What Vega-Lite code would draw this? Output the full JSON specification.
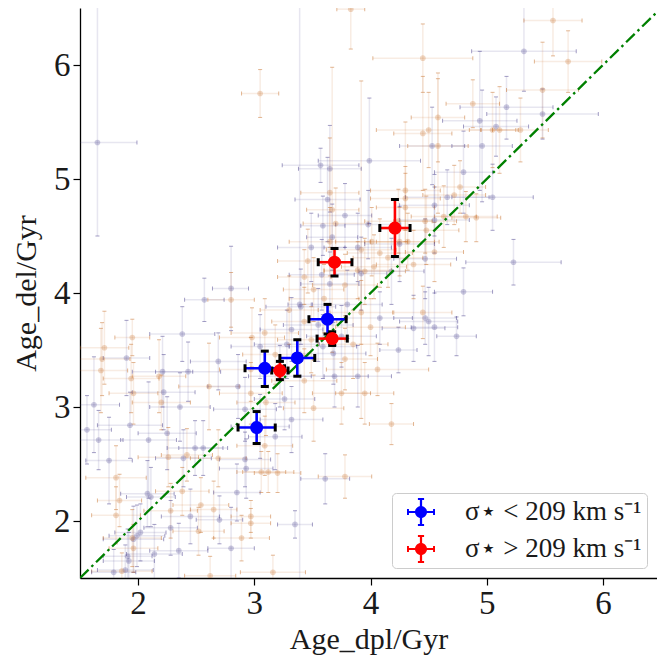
{
  "$schema": "https://vega.github.io/schema/vega-lite/v6.json",
  "width": 577,
  "height": 570,
  "autosize": {"type": "none"},
  "padding": {"left": 80, "top": 8, "right": 0, "bottom": 82},
  "background": "white",
  "config": {
    "view": {"stroke": null},
    "axis": {
      "grid": false,
      "domainColor": "black",
      "domainWidth": 1.3,
      "tickColor": "black",
      "tickWidth": 1.2,
      "tickSize": 7,
      "labelFont": "Liberation Serif",
      "labelFontSize": 33,
      "labelColor": "#1a1a1a",
      "titleFont": "Liberation Serif",
      "titleFontSize": 30,
      "titleFontWeight": "normal",
      "titleColor": "#1a1a1a"
    },
    "legend": {
      "orient": "bottom-right",
      "offset": 10,
      "padding": 5,
      "strokeColor": "#cccccc",
      "fillColor": "rgba(255,255,255,0.8)",
      "cornerRadius": 4,
      "labelFont": "Liberation Serif",
      "labelFontSize": 27,
      "labelLimit": 400,
      "labelColor": "#1a1a1a",
      "symbolSize": 784,
      "symbolStrokeWidth": 0,
      "symbolOffset": 10,
      "labelOffset": 30,
      "rowPadding": 9
    }
  },
  "datasets": {
    "bg": [
      {"x":1.65,"y":5.32,"xl":1.31,"xh":1.99,"yl":4.5,"yh":6.6,"g":"a"},
      {"x":3.05,"y":5.75,"xl":2.89,"xh":3.21,"yl":5.54,"yh":5.96,"g":"b"},
      {"x":3.83,"y":6.49,"xl":3.71,"xh":3.95,"yl":6.14,"yh":6.84,"g":"b"},
      {"x":3.39,"y":3.9,"xl":3.29,"xh":3.49,"yl":1.3,"yh":6.6,"g":"a"},
      {"x":3.57,"y":5.12,"xl":3.24,"xh":3.9,"yl":4.97,"yh":5.27,"g":"a"},
      {"x":3.65,"y":5.09,"xl":3.38,"xh":3.92,"yl":4.71,"yh":5.47,"g":"a"},
      {"x":2.8,"y":4.04,"xl":2.64,"xh":2.95,"yl":3.67,"yh":4.41,"g":"a"},
      {"x":3.65,"y":4.88,"xl":3.4,"xh":3.9,"yl":4.4,"yh":5.36,"g":"b"},
      {"x":3.63,"y":4.82,"xl":3.35,"xh":3.91,"yl":4.45,"yh":5.19,"g":"a"},
      {"x":3.67,"y":4.73,"xl":3.45,"xh":3.9,"yl":3.48,"yh":5.98,"g":"b"},
      {"x":3.78,"y":4.68,"xl":3.55,"xh":4.01,"yl":4.4,"yh":4.96,"g":"a"},
      {"x":3.7,"y":4.61,"xl":3.42,"xh":3.98,"yl":4.3,"yh":4.92,"g":"b"},
      {"x":3.59,"y":4.59,"xl":3.4,"xh":3.78,"yl":4.33,"yh":4.85,"g":"a"},
      {"x":3.67,"y":4.49,"xl":3.45,"xh":3.89,"yl":4.2,"yh":4.78,"g":"a"},
      {"x":3.65,"y":4.45,"xl":3.3,"xh":4.0,"yl":4.15,"yh":4.75,"g":"b"},
      {"x":3.92,"y":4.38,"xl":3.62,"xh":4.22,"yl":2.9,"yh":5.86,"g":"b"},
      {"x":3.89,"y":4.2,"xl":3.6,"xh":4.18,"yl":3.95,"yh":4.45,"g":"b"},
      {"x":3.92,"y":4.17,"xl":3.7,"xh":4.14,"yl":3.85,"yh":4.49,"g":"a"},
      {"x":3.43,"y":4.14,"xl":3.2,"xh":3.66,"yl":3.9,"yh":4.38,"g":"b"},
      {"x":3.51,"y":4.03,"xl":3.25,"xh":3.77,"yl":3.75,"yh":4.31,"g":"b"},
      {"x":3.65,"y":4.08,"xl":3.4,"xh":3.9,"yl":3.8,"yh":4.36,"g":"a"},
      {"x":5.57,"y":6.39,"xl":5.32,"xh":5.82,"yl":6.08,"yh":6.7,"g":"b"},
      {"x":5.32,"y":6.12,"xl":4.87,"xh":5.77,"yl":5.77,"yh":6.6,"g":"a"},
      {"x":5.7,"y":6.03,"xl":5.41,"xh":5.99,"yl":5.76,"yh":6.3,"g":"b"},
      {"x":4.45,"y":6.06,"xl":4.02,"xh":4.88,"yl":5.76,"yh":6.36,"g":"b"},
      {"x":5.48,"y":5.78,"xl":5.17,"xh":5.79,"yl":5.36,"yh":6.2,"g":"b"},
      {"x":5.48,"y":5.57,"xl":5.0,"xh":5.96,"yl":5.35,"yh":5.79,"g":"a"},
      {"x":5.17,"y":5.63,"xl":4.77,"xh":5.57,"yl":5.35,"yh":5.9,"g":"a"},
      {"x":4.88,"y":5.66,"xl":4.65,"xh":5.11,"yl":5.45,"yh":5.87,"g":"b"},
      {"x":4.58,"y":5.54,"xl":4.35,"xh":4.81,"yl":5.15,"yh":5.93,"g":"b"},
      {"x":4.94,"y":5.51,"xl":4.62,"xh":5.26,"yl":4.9,"yh":6.12,"g":"a"},
      {"x":5.08,"y":5.46,"xl":4.8,"xh":5.36,"yl":5.2,"yh":5.72,"g":"a"},
      {"x":5.05,"y":5.43,"xl":4.85,"xh":5.25,"yl":5.1,"yh":5.76,"g":"b"},
      {"x":5.11,"y":5.43,"xl":4.95,"xh":5.27,"yl":5.05,"yh":5.81,"g":"b"},
      {"x":5.29,"y":5.43,"xl":5.05,"xh":5.53,"yl":5.15,"yh":5.71,"g":"b"},
      {"x":4.5,"y":5.43,"xl":4.05,"xh":4.95,"yl":5.1,"yh":5.76,"g":"b"},
      {"x":4.45,"y":5.4,"xl":4.2,"xh":4.7,"yl":4.9,"yh":5.9,"g":"b"},
      {"x":4.53,"y":5.29,"xl":4.25,"xh":4.81,"yl":4.95,"yh":5.63,"g":"a"},
      {"x":4.58,"y":5.29,"xl":4.32,"xh":4.84,"yl":4.7,"yh":5.88,"g":"b"},
      {"x":4.96,"y":5.29,"xl":4.7,"xh":5.22,"yl":4.8,"yh":5.78,"g":"a"},
      {"x":3.99,"y":5.16,"xl":3.55,"xh":4.43,"yl":4.61,"yh":5.71,"g":"a"},
      {"x":4.8,"y":5.06,"xl":4.55,"xh":5.05,"yl":4.7,"yh":5.42,"g":"a"},
      {"x":4.77,"y":4.93,"xl":4.55,"xh":4.99,"yl":4.7,"yh":5.16,"g":"b"},
      {"x":4.3,"y":4.9,"xl":4.0,"xh":4.6,"yl":4.3,"yh":5.5,"g":"b"},
      {"x":4.72,"y":4.86,"xl":4.45,"xh":4.99,"yl":4.6,"yh":5.12,"g":"b"},
      {"x":4.66,"y":4.84,"xl":4.3,"xh":5.02,"yl":4.6,"yh":5.08,"g":"a"},
      {"x":4.3,"y":4.83,"xl":4.0,"xh":4.6,"yl":4.55,"yh":5.11,"g":"b"},
      {"x":5.05,"y":4.84,"xl":4.7,"xh":5.4,"yl":4.55,"yh":5.13,"g":"a"},
      {"x":4.55,"y":4.77,"xl":4.25,"xh":4.85,"yl":4.5,"yh":5.04,"g":"a"},
      {"x":4.55,"y":4.64,"xl":4.25,"xh":4.85,"yl":4.35,"yh":4.93,"g":"a"},
      {"x":4.82,"y":4.67,"xl":4.55,"xh":5.09,"yl":4.45,"yh":4.89,"g":"b"},
      {"x":4.91,"y":4.66,"xl":4.7,"xh":5.12,"yl":4.45,"yh":4.87,"g":"b"},
      {"x":4.63,"y":4.67,"xl":4.35,"xh":4.91,"yl":4.4,"yh":4.94,"g":"b"},
      {"x":4.48,"y":4.55,"xl":4.2,"xh":4.76,"yl":4.25,"yh":4.85,"g":"b"},
      {"x":4.25,"y":4.45,"xl":3.95,"xh":4.55,"yl":4.15,"yh":4.75,"g":"b"},
      {"x":4.32,"y":4.45,"xl":4.05,"xh":4.59,"yl":4.2,"yh":4.7,"g":"b"},
      {"x":4.25,"y":4.43,"xl":3.95,"xh":4.55,"yl":4.1,"yh":4.76,"g":"a"},
      {"x":4.08,"y":4.35,"xl":3.8,"xh":4.36,"yl":4.05,"yh":4.65,"g":"b"},
      {"x":4.15,"y":4.31,"xl":3.85,"xh":4.45,"yl":4.05,"yh":4.57,"g":"b"},
      {"x":4.47,"y":4.3,"xl":4.2,"xh":4.74,"yl":3.95,"yh":4.65,"g":"a"},
      {"x":4.37,"y":4.25,"xl":4.05,"xh":4.69,"yl":3.95,"yh":4.55,"g":"b"},
      {"x":4.03,"y":4.23,"xl":3.75,"xh":4.31,"yl":3.95,"yh":4.51,"g":"b"},
      {"x":5.23,"y":4.27,"xl":4.82,"xh":5.64,"yl":4.07,"yh":4.47,"g":"a"},
      {"x":4.55,"y":4.36,"xl":4.3,"xh":4.8,"yl":4.1,"yh":4.62,"g":"b"},
      {"x":4.8,"y":4.01,"xl":4.55,"xh":5.05,"yl":3.8,"yh":4.22,"g":"a"},
      {"x":3.98,"y":4.6,"xl":3.7,"xh":4.26,"yl":4.3,"yh":4.9,"g":"a"},
      {"x":4.01,"y":4.45,"xl":3.7,"xh":4.32,"yl":4.15,"yh":4.75,"g":"b"},
      {"x":4.24,"y":4.63,"xl":3.95,"xh":4.53,"yl":4.35,"yh":4.91,"g":"b"},
      {"x":4.47,"y":4.63,"xl":4.2,"xh":4.74,"yl":4.35,"yh":4.91,"g":"b"},
      {"x":4.18,"y":4.19,"xl":3.9,"xh":4.46,"yl":3.9,"yh":4.48,"g":"a"},
      {"x":3.95,"y":4.19,"xl":3.6,"xh":4.3,"yl":3.9,"yh":4.48,"g":"b"},
      {"x":4.3,"y":4.75,"xl":4.05,"xh":4.55,"yl":4.45,"yh":5.05,"g":"b"},
      {"x":3.46,"y":4.28,"xl":3.2,"xh":3.72,"yl":4.0,"yh":4.56,"g":"b"},
      {"x":3.58,"y":4.16,"xl":3.3,"xh":3.86,"yl":3.85,"yh":4.47,"g":"a"},
      {"x":3.78,"y":4.07,"xl":3.5,"xh":4.06,"yl":3.8,"yh":4.34,"g":"b"},
      {"x":3.89,"y":4.4,"xl":3.6,"xh":4.18,"yl":4.1,"yh":4.7,"g":"a"},
      {"x":3.49,"y":4.4,"xl":3.2,"xh":3.78,"yl":4.1,"yh":4.7,"g":"a"},
      {"x":4.45,"y":3.83,"xl":4.2,"xh":4.7,"yl":3.6,"yh":4.06,"g":"b"},
      {"x":4.08,"y":3.78,"xl":3.8,"xh":4.36,"yl":3.55,"yh":4.01,"g":"a"},
      {"x":4.47,"y":3.78,"xl":4.2,"xh":4.74,"yl":3.55,"yh":4.01,"g":"a"},
      {"x":4.5,"y":3.75,"xl":4.25,"xh":4.75,"yl":3.45,"yh":4.05,"g":"a"},
      {"x":4.37,"y":3.69,"xl":4.1,"xh":4.64,"yl":3.4,"yh":3.98,"g":"a"},
      {"x":4.55,"y":3.7,"xl":4.35,"xh":4.75,"yl":3.4,"yh":4.0,"g":"a"},
      {"x":4.74,"y":3.62,"xl":4.57,"xh":4.91,"yl":3.45,"yh":3.79,"g":"a"},
      {"x":4.0,"y":3.7,"xl":3.7,"xh":4.3,"yl":3.45,"yh":3.95,"g":"b"},
      {"x":4.24,"y":3.5,"xl":4.08,"xh":4.4,"yl":3.3,"yh":3.7,"g":"a"},
      {"x":4.06,"y":3.33,"xl":3.62,"xh":4.5,"yl":3.1,"yh":3.56,"g":"b"},
      {"x":4.18,"y":2.85,"xl":3.99,"xh":4.37,"yl":2.67,"yh":3.03,"g":"b"},
      {"x":2.57,"y":3.94,"xl":2.4,"xh":2.74,"yl":3.75,"yh":4.13,"g":"a"},
      {"x":2.8,"y":3.94,"xl":2.6,"xh":3.0,"yl":3.7,"yh":4.18,"g":"b"},
      {"x":1.71,"y":3.52,"xl":1.5,"xh":1.92,"yl":3.2,"yh":3.84,"g":"b"},
      {"x":1.95,"y":3.61,"xl":1.8,"xh":2.1,"yl":3.45,"yh":3.77,"g":"b"},
      {"x":1.69,"y":3.42,"xl":1.45,"xh":1.93,"yl":3.1,"yh":3.74,"g":"b"},
      {"x":1.68,"y":3.32,"xl":1.45,"xh":1.91,"yl":2.95,"yh":3.69,"g":"b"},
      {"x":1.9,"y":3.43,"xl":1.7,"xh":2.1,"yl":3.1,"yh":3.76,"g":"a"},
      {"x":1.94,"y":3.25,"xl":1.7,"xh":2.18,"yl":2.95,"yh":3.55,"g":"b"},
      {"x":1.96,"y":3.12,"xl":1.75,"xh":2.17,"yl":2.85,"yh":3.39,"g":"b"},
      {"x":2.18,"y":3.27,"xl":1.95,"xh":2.41,"yl":2.95,"yh":3.59,"g":"b"},
      {"x":2.2,"y":3.04,"xl":1.95,"xh":2.45,"yl":2.8,"yh":3.28,"g":"b"},
      {"x":2.22,"y":3.13,"xl":1.95,"xh":2.49,"yl":2.8,"yh":3.46,"g":"a"},
      {"x":2.21,"y":3.31,"xl":1.95,"xh":2.47,"yl":3.0,"yh":3.62,"g":"a"},
      {"x":2.38,"y":3.64,"xl":2.1,"xh":2.66,"yl":3.4,"yh":3.88,"g":"a"},
      {"x":2.43,"y":3.31,"xl":2.15,"xh":2.71,"yl":3.05,"yh":3.57,"g":"a"},
      {"x":2.61,"y":3.18,"xl":2.35,"xh":2.87,"yl":2.8,"yh":3.56,"g":"b"},
      {"x":2.69,"y":3.4,"xl":2.45,"xh":2.93,"yl":3.15,"yh":3.65,"g":"a"},
      {"x":2.36,"y":3.0,"xl":2.1,"xh":2.62,"yl":2.7,"yh":3.3,"g":"a"},
      {"x":1.62,"y":3.02,"xl":1.4,"xh":1.84,"yl":2.6,"yh":3.44,"g":"a"},
      {"x":1.56,"y":2.8,"xl":1.35,"xh":1.77,"yl":2.5,"yh":3.1,"g":"a"},
      {"x":1.66,"y":2.71,"xl":1.45,"xh":1.87,"yl":2.45,"yh":2.97,"g":"a"},
      {"x":1.93,"y":2.84,"xl":1.65,"xh":2.21,"yl":2.55,"yh":3.13,"g":"a"},
      {"x":2.09,"y":2.71,"xl":1.85,"xh":2.33,"yl":2.2,"yh":3.22,"g":"a"},
      {"x":2.25,"y":2.77,"xl":2.0,"xh":2.5,"yl":2.45,"yh":3.09,"g":"a"},
      {"x":1.75,"y":2.53,"xl":1.55,"xh":1.95,"yl":2.15,"yh":2.91,"g":"a"},
      {"x":2.26,"y":2.56,"xl":2.0,"xh":2.52,"yl":2.3,"yh":2.82,"g":"b"},
      {"x":2.39,"y":2.55,"xl":2.15,"xh":2.63,"yl":2.3,"yh":2.8,"g":"a"},
      {"x":2.42,"y":2.58,"xl":2.2,"xh":2.64,"yl":2.35,"yh":2.81,"g":"b"},
      {"x":2.49,"y":2.64,"xl":2.25,"xh":2.73,"yl":2.4,"yh":2.88,"g":"a"},
      {"x":2.56,"y":2.64,"xl":2.35,"xh":2.77,"yl":2.4,"yh":2.88,"g":"a"},
      {"x":2.69,"y":2.55,"xl":2.45,"xh":2.93,"yl":2.3,"yh":2.8,"g":"b"},
      {"x":2.93,"y":2.46,"xl":2.7,"xh":3.16,"yl":2.2,"yh":2.72,"g":"a"},
      {"x":3.06,"y":2.43,"xl":2.85,"xh":3.27,"yl":2.25,"yh":2.61,"g":"b"},
      {"x":3.12,"y":2.43,"xl":2.9,"xh":3.34,"yl":2.25,"yh":2.61,"g":"b"},
      {"x":3.2,"y":2.42,"xl":3.0,"xh":3.4,"yl":2.25,"yh":2.59,"g":"b"},
      {"x":3.61,"y":2.37,"xl":3.4,"xh":3.82,"yl":2.15,"yh":2.59,"g":"a"},
      {"x":3.78,"y":2.39,"xl":3.55,"xh":4.01,"yl":2.2,"yh":2.58,"g":"b"},
      {"x":1.81,"y":2.38,"xl":1.55,"xh":2.07,"yl":2.1,"yh":2.66,"g":"b"},
      {"x":2.08,"y":2.24,"xl":1.85,"xh":2.31,"yl":1.95,"yh":2.53,"g":"a"},
      {"x":2.85,"y":2.25,"xl":2.65,"xh":3.05,"yl":2.0,"yh":2.5,"g":"a"},
      {"x":2.38,"y":2.26,"xl":2.15,"xh":2.61,"yl":2.05,"yh":2.47,"g":"b"},
      {"x":1.84,"y":2.18,"xl":1.65,"xh":2.03,"yl":1.95,"yh":2.41,"g":"b"},
      {"x":2.11,"y":2.21,"xl":1.9,"xh":2.32,"yl":1.95,"yh":2.47,"g":"a"},
      {"x":2.54,"y":2.14,"xl":2.3,"xh":2.78,"yl":1.9,"yh":2.38,"g":"b"},
      {"x":2.65,"y":2.1,"xl":2.45,"xh":2.85,"yl":1.85,"yh":2.35,"g":"b"},
      {"x":2.28,"y":2.09,"xl":2.05,"xh":2.51,"yl":1.85,"yh":2.33,"g":"b"},
      {"x":1.81,"y":2.05,"xl":1.6,"xh":2.02,"yl":1.8,"yh":2.3,"g":"b"},
      {"x":2.45,"y":2.04,"xl":2.2,"xh":2.7,"yl":1.8,"yh":2.28,"g":"a"},
      {"x":2.7,"y":2.01,"xl":2.5,"xh":2.9,"yl":1.8,"yh":2.22,"g":"a"},
      {"x":2.97,"y":2.04,"xl":2.8,"xh":3.14,"yl":1.9,"yh":2.18,"g":"b"},
      {"x":2.97,"y":1.98,"xl":2.8,"xh":3.14,"yl":1.85,"yh":2.11,"g":"b"},
      {"x":3.35,"y":1.97,"xl":3.2,"xh":3.5,"yl":1.85,"yh":2.09,"g":"a"},
      {"x":2.28,"y":1.94,"xl":2.05,"xh":2.51,"yl":1.7,"yh":2.18,"g":"a"},
      {"x":2.52,"y":1.91,"xl":2.3,"xh":2.74,"yl":1.7,"yh":2.12,"g":"b"},
      {"x":2.89,"y":1.85,"xl":2.65,"xh":3.13,"yl":1.65,"yh":2.05,"g":"b"},
      {"x":2.02,"y":1.9,"xl":1.8,"xh":2.24,"yl":1.65,"yh":2.15,"g":"a"},
      {"x":1.99,"y":1.87,"xl":1.75,"xh":2.23,"yl":1.6,"yh":2.14,"g":"a"},
      {"x":1.96,"y":1.84,"xl":1.7,"xh":2.22,"yl":1.55,"yh":2.13,"g":"a"},
      {"x":1.91,"y":1.69,"xl":1.7,"xh":2.12,"yl":1.45,"yh":1.93,"g":"a"},
      {"x":1.92,"y":1.65,"xl":1.7,"xh":2.14,"yl":1.4,"yh":1.9,"g":"a"},
      {"x":1.89,"y":1.57,"xl":1.65,"xh":2.13,"yl":1.35,"yh":1.79,"g":"a"},
      {"x":1.96,"y":1.76,"xl":1.75,"xh":2.17,"yl":1.55,"yh":1.97,"g":"b"},
      {"x":1.95,"y":1.85,"xl":1.7,"xh":2.2,"yl":1.6,"yh":2.1,"g":"b"},
      {"x":2.35,"y":1.74,"xl":2.1,"xh":2.6,"yl":1.5,"yh":1.98,"g":"a"},
      {"x":2.14,"y":1.71,"xl":1.9,"xh":2.38,"yl":1.45,"yh":1.97,"g":"a"},
      {"x":2.8,"y":1.76,"xl":2.6,"xh":3.0,"yl":1.4,"yh":2.12,"g":"a"},
      {"x":3.16,"y":1.55,"xl":2.88,"xh":3.44,"yl":1.4,"yh":1.7,"g":"b"},
      {"x":1.86,"y":1.56,"xl":1.6,"xh":2.12,"yl":1.4,"yh":1.72,"g":"b"},
      {"x":1.79,"y":1.55,"xl":1.6,"xh":1.98,"yl":1.35,"yh":1.75,"g":"a"},
      {"x":2.62,"y":1.52,"xl":2.4,"xh":2.84,"yl":1.35,"yh":1.69,"g":"b"},
      {"x":2.98,"y":3.61,"xl":2.7,"xh":3.26,"yl":3.35,"yh":3.87,"g":"b"},
      {"x":3.05,"y":3.53,"xl":2.8,"xh":3.3,"yl":3.25,"yh":3.81,"g":"a"},
      {"x":3.18,"y":3.46,"xl":2.9,"xh":3.46,"yl":3.2,"yh":3.72,"g":"b"},
      {"x":3.28,"y":3.55,"xl":3.0,"xh":3.56,"yl":3.25,"yh":3.85,"g":"a"},
      {"x":3.49,"y":3.59,"xl":3.2,"xh":3.78,"yl":3.3,"yh":3.88,"g":"b"},
      {"x":3.59,"y":3.53,"xl":3.3,"xh":3.88,"yl":3.25,"yh":3.81,"g":"a"},
      {"x":3.68,"y":3.47,"xl":3.4,"xh":3.96,"yl":3.2,"yh":3.74,"g":"a"},
      {"x":3.78,"y":3.42,"xl":3.5,"xh":4.06,"yl":3.15,"yh":3.69,"g":"b"},
      {"x":3.75,"y":3.12,"xl":3.5,"xh":4.0,"yl":2.85,"yh":3.39,"g":"b"},
      {"x":3.51,"y":2.99,"xl":3.25,"xh":3.77,"yl":2.7,"yh":3.28,"g":"b"},
      {"x":3.43,"y":3.23,"xl":3.15,"xh":3.71,"yl":2.95,"yh":3.51,"g":"b"},
      {"x":3.18,"y":2.74,"xl":2.95,"xh":3.41,"yl":2.45,"yh":3.03,"g":"a"},
      {"x":3.09,"y":2.66,"xl":2.85,"xh":3.33,"yl":2.4,"yh":2.92,"g":"b"},
      {"x":2.92,"y":2.54,"xl":2.7,"xh":3.14,"yl":2.3,"yh":2.78,"g":"a"},
      {"x":3.05,"y":2.83,"xl":2.8,"xh":3.3,"yl":2.55,"yh":3.11,"g":"a"},
      {"x":3.26,"y":3.07,"xl":3.0,"xh":3.52,"yl":2.8,"yh":3.34,"g":"a"},
      {"x":3.95,"y":3.12,"xl":3.7,"xh":4.2,"yl":2.85,"yh":3.39,"g":"b"},
      {"x":3.89,"y":3.27,"xl":3.6,"xh":4.18,"yl":3.0,"yh":3.54,"g":"a"},
      {"x":3.69,"y":3.27,"xl":3.4,"xh":3.98,"yl":3.0,"yh":3.54,"g":"a"},
      {"x":3.43,"y":3.75,"xl":3.15,"xh":3.71,"yl":3.45,"yh":4.05,"g":"b"},
      {"x":3.55,"y":3.72,"xl":3.25,"xh":3.85,"yl":3.4,"yh":4.04,"g":"a"},
      {"x":3.92,"y":3.83,"xl":3.65,"xh":4.19,"yl":3.55,"yh":4.11,"g":"b"},
      {"x":3.32,"y":3.68,"xl":3.05,"xh":3.59,"yl":3.4,"yh":3.96,"g":"a"},
      {"x":3.09,"y":3.65,"xl":2.8,"xh":3.38,"yl":3.35,"yh":3.95,"g":"b"},
      {"x":3.22,"y":3.27,"xl":2.95,"xh":3.49,"yl":3.0,"yh":3.54,"g":"a"},
      {"x":2.97,"y":3.12,"xl":2.7,"xh":3.24,"yl":2.85,"yh":3.39,"g":"b"},
      {"x":2.92,"y":2.98,"xl":2.65,"xh":3.19,"yl":2.7,"yh":3.26,"g":"a"},
      {"x":3.1,"y":3.04,"xl":2.85,"xh":3.35,"yl":2.75,"yh":3.33,"g":"b"},
      {"x":3.32,"y":2.89,"xl":3.05,"xh":3.59,"yl":2.6,"yh":3.18,"g":"a"},
      {"x":2.86,"y":3.18,"xl":2.6,"xh":3.12,"yl":2.9,"yh":3.46,"g":"a"},
      {"x":2.97,"y":3.33,"xl":2.7,"xh":3.24,"yl":3.05,"yh":3.61,"g":"b"},
      {"x":3.4,"y":3.88,"xl":3.1,"xh":3.7,"yl":3.55,"yh":4.21,"g":"a"},
      {"x":3.6,"y":3.95,"xl":3.3,"xh":3.9,"yl":3.65,"yh":4.25,"g":"b"},
      {"x":3.8,"y":3.9,"xl":3.5,"xh":4.1,"yl":3.6,"yh":4.2,"g":"a"},
      {"x":3.3,"y":3.85,"xl":3.05,"xh":3.55,"yl":3.55,"yh":4.15,"g":"b"},
      {"x":3.75,"y":3.62,"xl":3.45,"xh":4.05,"yl":3.35,"yh":3.89,"g":"a"},
      {"x":3.85,"y":3.55,"xl":3.55,"xh":4.15,"yl":3.25,"yh":3.85,"g":"b"}
    ],
    "main": [
      {"x":3.02,"y":2.82,"xl":2.86,"xh":3.18,"yl":2.68,"yh":2.96,"g":"σ⋆ < 209 km s⁻¹"},
      {"x":3.09,"y":3.34,"xl":2.92,"xh":3.26,"yl":3.18,"yh":3.49,"g":"σ⋆ < 209 km s⁻¹"},
      {"x":3.37,"y":3.43,"xl":3.22,"xh":3.52,"yl":3.27,"yh":3.59,"g":"σ⋆ < 209 km s⁻¹"},
      {"x":3.63,"y":3.77,"xl":3.47,"xh":3.79,"yl":3.64,"yh":3.9,"g":"σ⋆ < 209 km s⁻¹"},
      {"x":3.22,"y":3.32,"xl":3.15,"xh":3.29,"yl":3.24,"yh":3.4,"g":"σ⋆ > 209 km s⁻¹"},
      {"x":3.67,"y":3.6,"xl":3.54,"xh":3.8,"yl":3.54,"yh":3.66,"g":"σ⋆ > 209 km s⁻¹"},
      {"x":3.69,"y":4.27,"xl":3.55,"xh":3.84,"yl":4.15,"yh":4.39,"g":"σ⋆ > 209 km s⁻¹"},
      {"x":4.21,"y":4.57,"xl":4.08,"xh":4.34,"yl":4.32,"yh":4.82,"g":"σ⋆ > 209 km s⁻¹"}
    ],
    "diag": [
      {"x":1.5,"y":1.5},
      {"x":6.5,"y":6.5}
    ]
  },
  "layer": [
    {
      "data": {"name": "bg"},
      "mark": {"type": "rule", "clip": true, "strokeWidth": 1.5, "opacity": 0.13},
      "encoding": {
        "x": {"field": "xl", "type": "quantitative", "scale": {"domain": [1.5, 6.465], "nice": false, "zero": false},
              "axis": {"orient": "bottom", "values": [2, 3, 4, 5, 6], "format": "d", "title": "Age_dpl/Gyr", "labelPadding": 2, "titlePadding": 4}},
        "x2": {"field": "xh"},
        "y": {"field": "y", "type": "quantitative", "scale": {"domain": [1.5, 6.5], "nice": false, "zero": false},
              "axis": {"orient": "left", "values": [2, 3, 4, 5, 6], "format": "d", "title": "Age_del/Gyr", "labelPadding": 3, "titlePadding": 12}},
        "stroke": {"field": "g", "type": "nominal", "scale": {"domain": ["a", "b"], "range": ["#483d8b", "#c8702a"]}, "legend": null}
      }
    },
    {
      "data": {"name": "bg"},
      "mark": {"type": "rule", "clip": true, "strokeWidth": 1.5, "opacity": 0.13},
      "encoding": {
        "x": {"field": "x", "type": "quantitative"},
        "y": {"field": "yl", "type": "quantitative"},
        "y2": {"field": "yh"},
        "stroke": {"field": "g", "type": "nominal", "legend": null}
      }
    },
    {
      "data": {"name": "bg"},
      "mark": {"type": "tick", "clip": true, "orient": "vertical", "size": 4, "thickness": 1, "opacity": 0.5},
      "encoding": {
        "x": {"field": "xl", "type": "quantitative"},
        "y": {"field": "y", "type": "quantitative"},
        "fill": {"field": "g", "type": "nominal", "scale": {"domain": ["a", "b"], "range": ["#483d8b", "#c8702a"]}, "legend": null}
      }
    },
    {
      "data": {"name": "bg"},
      "mark": {"type": "tick", "clip": true, "orient": "vertical", "size": 4, "thickness": 1, "opacity": 0.5},
      "encoding": {
        "x": {"field": "xh", "type": "quantitative"},
        "y": {"field": "y", "type": "quantitative"},
        "fill": {"field": "g", "type": "nominal", "legend": null}
      }
    },
    {
      "data": {"name": "bg"},
      "mark": {"type": "tick", "clip": true, "orient": "horizontal", "size": 4, "thickness": 1, "opacity": 0.5},
      "encoding": {
        "x": {"field": "x", "type": "quantitative"},
        "y": {"field": "yl", "type": "quantitative"},
        "fill": {"field": "g", "type": "nominal", "legend": null}
      }
    },
    {
      "data": {"name": "bg"},
      "mark": {"type": "tick", "clip": true, "orient": "horizontal", "size": 4, "thickness": 1, "opacity": 0.5},
      "encoding": {
        "x": {"field": "x", "type": "quantitative"},
        "y": {"field": "yh", "type": "quantitative"},
        "fill": {"field": "g", "type": "nominal", "legend": null}
      }
    },
    {
      "data": {"name": "bg"},
      "mark": {"type": "circle", "clip": true, "size": 32, "opacity": 0.27},
      "encoding": {
        "x": {"field": "x", "type": "quantitative"},
        "y": {"field": "y", "type": "quantitative"},
        "fill": {"field": "g", "type": "nominal", "legend": null}
      }
    },
    {
      "data": {"name": "diag"},
      "mark": {"type": "line", "clip": true, "color": "#008000", "strokeWidth": 2.3, "strokeDash": [12, 4, 2.5, 4]},
      "encoding": {
        "x": {"field": "x", "type": "quantitative"},
        "y": {"field": "y", "type": "quantitative"}
      }
    },
    {
      "mark": {"type": "rule", "color": "black", "strokeWidth": 1.3},
      "encoding": {
        "y": {"datum": 6.5, "type": "quantitative"}
      }
    },
    {
      "data": {"name": "main"},
      "mark": {"type": "rule", "strokeWidth": 2.6},
      "encoding": {
        "x": {"field": "xl", "type": "quantitative"},
        "x2": {"field": "xh"},
        "y": {"field": "y", "type": "quantitative"},
        "color": {"field": "g", "type": "nominal", "scale": {"domain": ["σ⋆ < 209 km s⁻¹", "σ⋆ > 209 km s⁻¹"], "range": ["#0000ff", "#ff0000"]},
                  "legend": {"title": null, "labelFont": "Liberation Serif", "labelFontSize": 27, "labelLimit": 400,
                             "symbolType": "M-1,-0.08H1V0.08H-1Z M-0.08,-1H0.08V1H-0.08Z M0.43,0A0.43,0.43,0,1,1,-0.43,0A0.43,0.43,0,1,1,0.43,0Z M-1,-0.22H-0.86V0.22H-1Z M0.86,-0.22H1V0.22H0.86Z M-0.22,-1H0.22V-0.86H-0.22Z M-0.22,0.86H0.22V1H-0.22Z",
                             "symbolFillColor": null,
                             "encode": {"labels": {"update": {"font": {"value": "Liberation Serif"}}}}}}
      }
    },
    {
      "data": {"name": "main"},
      "mark": {"type": "rule", "strokeWidth": 2.6},
      "encoding": {
        "x": {"field": "x", "type": "quantitative"},
        "y": {"field": "yl", "type": "quantitative"},
        "y2": {"field": "yh"},
        "color": {"field": "g", "type": "nominal"}
      }
    },
    {
      "data": {"name": "main"},
      "mark": {"type": "tick", "orient": "vertical", "size": 8, "thickness": 3, "color": "black", "opacity": 1},
      "encoding": {
        "x": {"field": "xl", "type": "quantitative"},
        "y": {"field": "y", "type": "quantitative"}
      }
    },
    {
      "data": {"name": "main"},
      "mark": {"type": "tick", "orient": "vertical", "size": 8, "thickness": 3, "color": "black", "opacity": 1},
      "encoding": {
        "x": {"field": "xh", "type": "quantitative"},
        "y": {"field": "y", "type": "quantitative"}
      }
    },
    {
      "data": {"name": "main"},
      "mark": {"type": "tick", "orient": "horizontal", "size": 8, "thickness": 3, "color": "black", "opacity": 1},
      "encoding": {
        "x": {"field": "x", "type": "quantitative"},
        "y": {"field": "yl", "type": "quantitative"}
      }
    },
    {
      "data": {"name": "main"},
      "mark": {"type": "tick", "orient": "horizontal", "size": 8, "thickness": 3, "color": "black", "opacity": 1},
      "encoding": {
        "x": {"field": "x", "type": "quantitative"},
        "y": {"field": "yh", "type": "quantitative"}
      }
    },
    {
      "data": {"name": "main"},
      "mark": {"type": "circle", "size": 170, "opacity": 1},
      "encoding": {
        "x": {"field": "x", "type": "quantitative"},
        "y": {"field": "y", "type": "quantitative"},
        "color": {"field": "g", "type": "nominal"}
      }
    }
  ]
}
